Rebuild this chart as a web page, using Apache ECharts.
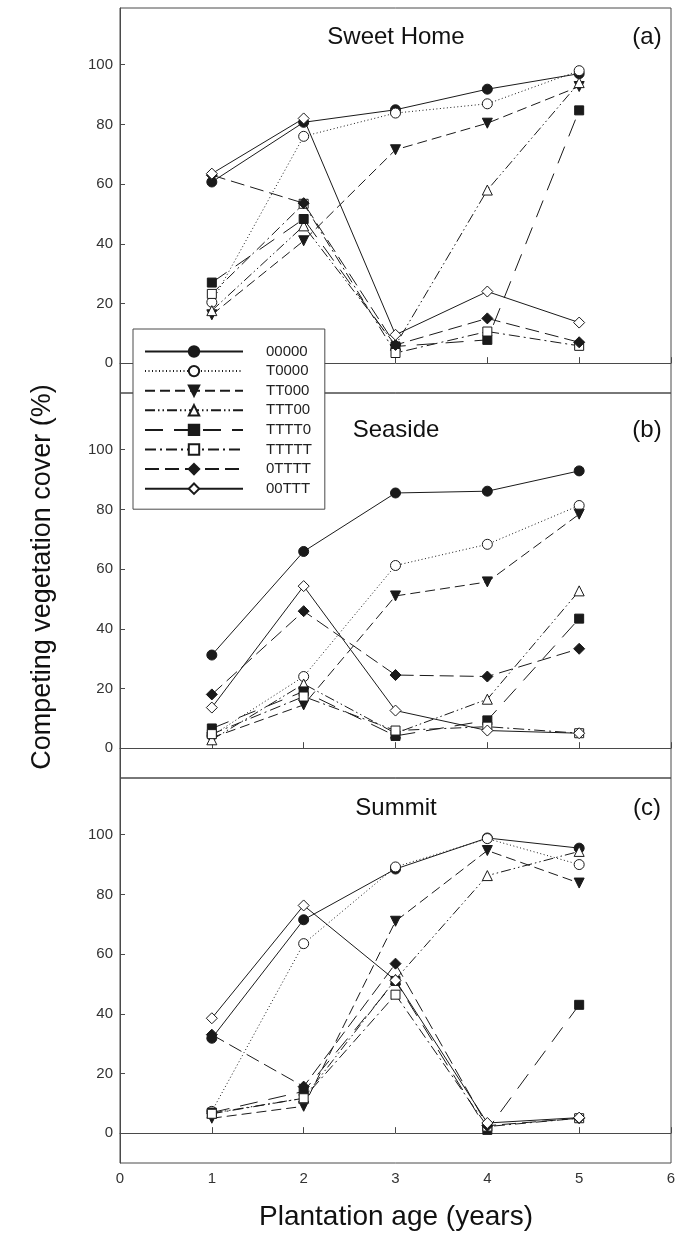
<!DOCTYPE html>
<html>
<head>
<meta charset="utf-8">
<script src="https://cdn.jsdelivr.net/npm/echarts@6/dist/echarts.min.js"></script>
<style>
  html, body { margin: 0; background: #fff; }
  #chart { width: 684px; height: 1234px; }
</style>
</head>
<body>
<div id="chart"></div>
<script>
// plantation age (years)
const years = [1, 2, 3, 4, 5];
const treatments = ['00000', 'T0000', 'TT000', 'TTT00', 'TTTT0', 'TTTTT', '0TTTT', '00TTT'];
const sites = ['Sweet Home', 'Seaside', 'Summit'];
const panelTags = ['(a)', '(b)', '(c)'];
const yTicks = [0, 20, 40, 60, 80, 100];

// competing vegetation cover (%), one row per treatment (same order as treatments)
const sweetHomeCover = [
  [60.7, 80.7, 84.9, 91.8, 97.0],
  [20.4, 76.0, 83.8, 86.9, 98.0],
  [16.2, 41.0, 71.5, 80.4, 92.7],
  [17.6, 46.0, 6.0, 58.0, 94.0],
  [27.0, 48.3, 5.6, 7.8, 84.7],
  [23.2, 53.4, 3.4, 10.6, 5.8],
  [63.0, 53.6, 6.1, 15.0, 7.0],
  [63.5, 82.0, 9.5, 24.0, 13.6]
];
const seasideCover = [
  [31.2, 65.9, 85.5, 86.1, 92.9],
  [4.2, 24.0, 61.2, 68.3, 81.3],
  [3.5, 14.5, 51.0, 55.7, 78.4],
  [2.8, 21.5, 5.0, 16.4, 52.7],
  [6.6, 19.0, 4.1, 9.3, 43.4],
  [4.7, 17.3, 5.9, 7.2, 5.0],
  [18.0, 45.9, 24.5, 24.0, 33.3],
  [13.6, 54.3, 12.6, 5.9, 5.0]
];
const summitCover = [
  [31.8, 71.5, 88.5, 98.9, 95.5],
  [7.3, 63.5, 89.2, 98.7, 90.0],
  [5.0, 9.0, 71.0, 94.7, 83.8],
  [6.7, 11.7, 51.5, 86.3, 94.4],
  [6.9, 14.0, 51.0, 1.1, 43.0],
  [6.5, 11.7, 46.4, 2.2, 5.0],
  [33.0, 15.6, 56.8, 2.5, 5.0],
  [38.5, 76.3, 51.2, 3.4, 5.2]
];
const siteCover = [sweetHomeCover, seasideCover, summitCover];

const ink = '#1a1a1a';
const frame = '#4a4a4a';
const font = '"Liberation Sans", Arial, sans-serif';

// marker + line style per treatment
const looks = [
  { symbol: 'circle', size: 10, fill: ink, dash: 'solid' },
  { symbol: 'circle', size: 10, fill: '#fff', dash: [1, 2.5] },
  { symbol: 'triangle', size: 10, fill: ink, dash: [10, 5], rotate: 180 },
  { symbol: 'triangle', size: 10, fill: '#fff', dash: [10, 3, 1.5, 3, 1.5, 3] },
  { symbol: 'rect', size: 9, fill: ink, dash: [18, 11] },
  { symbol: 'rect', size: 9, fill: '#fff', dash: [11, 4, 2, 4] },
  { symbol: 'diamond', size: 11, fill: ink, dash: [14, 6] },
  { symbol: 'diamond', size: 11, fill: '#fff', dash: 'solid' }
];

const gridTops = [8, 393, 778];
const gridH = 385;

const grids = gridTops.map(t => ({
  left: 120, width: 551, top: t, height: gridH,
  show: true, borderColor: frame, borderWidth: 1, backgroundColor: 'transparent'
}));

const xAxes = gridTops.map((t, i) => ({
  type: 'value', gridIndex: i, min: 0, max: 6, interval: 1,
  axisLine: { show: true, lineStyle: { color: frame } },
  axisTick: { show: true, inside: true, length: 6, lineStyle: { color: frame } },
  axisLabel: { show: i === 2, margin: 8, fontSize: 15, color: '#333', fontFamily: font },
  splitLine: { show: false }
}));

const yAxes = gridTops.map((t, i) => ({
  type: 'value', gridIndex: i, min: -10, max: 119,
  axisLine: { show: true, lineStyle: { color: frame } },
  axisTick: { show: true, inside: true, length: 5, customValues: yTicks, lineStyle: { color: frame } },
  axisLabel: { show: true, margin: 7, fontSize: 15, color: '#333', fontFamily: font, customValues: yTicks },
  splitLine: { show: false }
}));

const series = [];
siteCover.forEach((cover, gi) => {
  cover.forEach((vals, ti) => {
    const lk = looks[ti];
    series.push({
      name: treatments[ti],
      type: 'line',
      xAxisIndex: gi, yAxisIndex: gi,
      data: years.map((yr, k) => [yr, vals[k]]),
      symbol: lk.symbol,
      symbolSize: lk.size,
      symbolRotate: lk.rotate || 0,
      showAllSymbol: true,
      animation: false,
      lineStyle: { color: ink, width: 1, type: lk.dash },
      itemStyle: { color: lk.fill, borderColor: ink, borderWidth: 1, opacity: 1 },
      emphasis: { disabled: true },
      z: 3 + ti * 0.01
    });
  });
});

const graphics = [];
const titleY = [37, 430, 808];
sites.forEach((s, i) => {
  graphics.push({
    type: 'text', x: 396, y: titleY[i],
    style: { text: s, font: '24px ' + font, fill: '#111', textAlign: 'center', textVerticalAlign: 'middle' }
  });
  graphics.push({
    type: 'text', x: 647, y: titleY[i],
    style: { text: panelTags[i], font: '24px ' + font, fill: '#111', textAlign: 'center', textVerticalAlign: 'middle' }
  });
});
graphics.push({
  type: 'text', x: 43, y: 577, rotation: Math.PI / 2,
  style: { text: 'Competing vegetation cover (%)', font: '27px ' + font, fill: '#111', textAlign: 'center', textVerticalAlign: 'middle' }
});
graphics.push({
  type: 'text', x: 396, y: 1217,
  style: { text: 'Plantation age (years)', font: '28px ' + font, fill: '#111', textAlign: 'center', textVerticalAlign: 'middle' }
});

const chart = echarts.init(document.getElementById('chart'), null, { renderer: 'canvas' });
chart.setOption({
  backgroundColor: '#fff',
  animation: false,
  grid: grids,
  xAxis: xAxes,
  yAxis: yAxes,
  legend: {
    data: treatments,
    orient: 'vertical',
    left: 133, top: 329,
    padding: [15, 13, 13, 11],
    itemWidth: 98, itemHeight: 13, itemGap: 4.6,
    backgroundColor: '#fff',
    borderColor: frame, borderWidth: 1,
    selectedMode: false,
    textStyle: { fontSize: 15, lineHeight: 15, color: '#222', fontFamily: font, padding: [0, 0, 0, 18] },
    z: 10
  },
  graphic: graphics,
  series: series
});
</script>
</body>
</html>
